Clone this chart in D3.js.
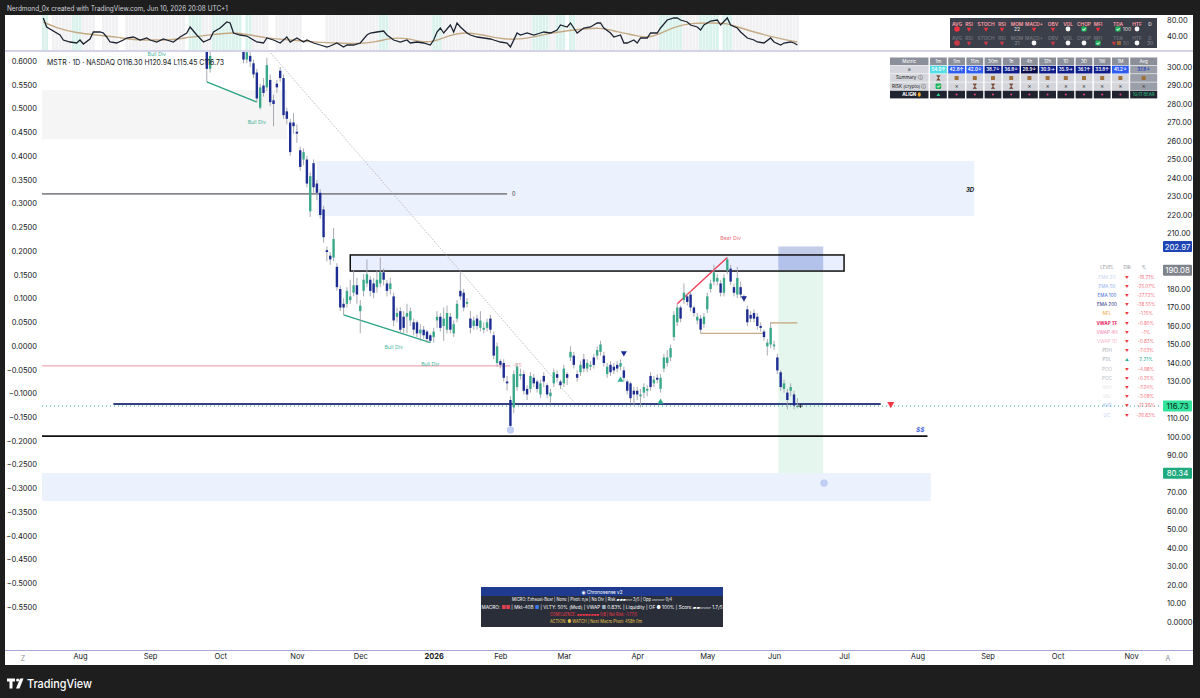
<!DOCTYPE html>
<html><head><meta charset="utf-8"><title>MSTR 1D</title>
<script src="https://cdn.jsdelivr.net/npm/d3@7/dist/d3.min.js"></script>
<style>html,body{margin:0;padding:0;background:#1e1e1e;overflow:hidden}svg{display:block}</style>
</head><body><svg id="chart" width="1200" height="698"></svg>
<script>
// ================= DATA =================
const marketHolidays = ["2025-07-04","2025-09-01","2025-11-27","2025-12-25","2026-01-01","2026-01-19","2026-02-16","2026-04-03","2026-05-25","2026-06-19","2026-07-03","2026-09-07","2026-11-26","2026-12-25"];
const firstBarDate = "2025-09-25";
// daily OHLC, one entry per trading day from firstBarDate
const ohlc = [
[309,312,292,299],[299,310,297,306],[314,322,310,320],[320,334,317,330],[330,338,322,326],[326,340,323,336],[336,345,330,333],[333,337,320,324],[324,332,316,328],[328,331,314,318],
[318,324,311,320],[318,320,302,304],[304,312,302,308],[306,309,300,303],[302,304,294,296],[297,299,281,283],[278,291,277,289],[290,294,284,286],[289,305,287,301],[293,296,279,281],
[282,285,268,280],[291,293,286,289],[298,300,292,294],[294,296,272,274],[276,278,269,272],[270,272,252,254],[270,275,264,268],[265,269,259,264],[255,257,244,246],[250,256,247,254],
[250,252,235,237],[222,243,219,241],[248,250,232,235],[237,239,228,232],[232,234,218,220],[223,225,205,208],[201,203,195,200],[198,200,193,196],[197,213,195,207],[192,194,179,181],
[180,182,168,170],[172,175,166,170],[172,181,170,179],[174,185,172,176],[178,190,176,182],[182,186,172,177],[168,174,156,171],[179,188,176,185],[183,196,181,188],[185,187,176,179],
[183,186,175,178],[181,190,178,185],[183,197,181,189],[189,191,182,185],[183,185,176,179],[180,186,177,183],[176,178,160,163],[165,170,162,167],[168,170,156,158],[165,168,156,159],
[165,172,156,167],[163,170,160,168],[162,164,155,158],[162,163,154,156],[156,161,152,158],[158,160,153,155],[157,158,151,153],[155,156,151,152],[154,159,151,157],[163,168,159,165],
[165,167,157,159],[160,170,152,164],[158,171,156,167],[165,167,156,158],[156,163,154,161],[164,174,162,172],[179,189,174,176],[178,180,168,170],[172,175,170,173],[164,168,156,159],
[160,165,158,163],[164,166,158,160],[159,168,157,163],[158,162,156,159],[159,164,157,162],[164,166,156,158],[155,157,142,144],[140,151,138,149],[141,142,137,139],[140,142,130,132],
[130,133,125,129],[120,122,104,106],[116,136,113,134],[127,140,125,138],[133,137,131,134],[134,136,123,125],[126,128,120,123],[126,135,124,133],[132,134,127,129],[130,131,124,126],
[123,131,121,129],[133,135,127,130],[128,129,121,123],[122,126,118,124],[129,137,127,135],[134,136,130,132],[130,131,126,128],[129,139,127,137],[134,135,128,132],[143,149,141,146],
[144,146,137,139],[134,136,130,132],[135,141,133,139],[142,145,135,137],[137,142,135,140],[138,141,136,139],[143,145,137,139],[144,149,142,147],[146,152,144,150],[144,146,138,140],
[134,140,132,138],[139,141,133,135],[138,140,134,136],[139,141,135,137],[138,142,136,140],[136,138,130,132],[130,131,123,125],[129,130,118,121],[125,127,117,123],[125,127,120,123],
[122,126,116,123],[124,129,121,127],[125,128,122,126],[133,135,125,127],[129,133,127,131],[132,134,129,131],[126,134,124,132],[137,145,135,143],[140,147,138,143],[143,150,141,148],
[154,168,152,166],[162,172,160,170],[170,171,162,164],[174,183,172,178],[176,178,171,173],[177,179,168,170],[170,171,165,167],[163,167,161,165],[164,166,156,158],[161,167,159,165],
[169,178,167,176],[180,185,178,183],[184,193,182,189],[184,188,182,186],[183,185,176,178],[178,188,176,186],[190,197,188,196],[191,193,182,184],[181,183,176,178],[177,192,175,186],
[181,184,175,177],[176,177,173,175],[169,171,160,162],[166,168,162,164],[167,169,162,164],[165,167,158,160],[160,162,157,159],[157,158,152,154],[149,153,144,151],[150,162,148,159],
[149,152,147,150],[143,145,134,136],[135,136,125,127],[126,131,124,129],[124,126,115,120],[125,129,122,127],[123,125,115,117],[116.30,120.94,115.45,116.73]
];
// oscillator pane: [trading days from 2025-08-01, value]
const oscLine = [[-11,85],[-10,62.5],[-6,42.5],[-5,30],[-3,25],[-1,22.5],[0,30],[1,20],[3,32.5],[4,50],[6,50],[7,47.5],[8,37.5],[9,25],[11,22.5],[13,30],[14,35],[16,37.5],[18,30],[20,35],[21,30],[23,25],[25,32.5],[26,30],[28,25],[30,37.5],[32,47.5],[33,62.5],[35,42.5],[37,25],[39,32.5],[40,50],[42,60],[44,75],[45,72.5],[46,47.5],[48,42.5],[50,40],[51,35],[53,25],[55,22.5],[56,35],[58,30],[60,22.5],[62,37.5],[63,25],[65,35],[67,25],[68,30],[70,22.5],[72,17.5],[74,12.5],[75,15],[77,22.5],[79,12.5],[80,17.5],[82,17.5],[84,22.5],[86,42.5],[87,47.5],[89,50],[91,52.5],[92,42.5],[94,30],[96,25],[98,30],[99,22.5],[101,25],[103,22.5],[105,17.5],[106,30],[107,50],[108,60],[109,47.5],[111,67.5],[112,50],[113,72.5],[114,62.5],[116,47.5],[117,42.5],[119,37.5],[121,35],[123,32.5],[124,30],[126,25],[128,22.5],[129,12.5],[131,47.5],[132,42.5],[134,47.5],[136,42.5],[138,47.5],[139,50],[141,47.5],[143,55],[144,67.5],[146,62.5],[147,72.5],[149,47.5],[151,60],[153,62.5],[155,72.5],[156,72.5],[157,60],[159,47.5],[160,37.5],[162,42.5],[163,22.5],[164,22.5],[166,30],[167,22.5],[168,35],[170,35],[171,47.5],[173,47.5],[174,60],[176,80],[178,85],[179,85],[180,80],[182,75],[183,67.5],[185,62.5],[186,55],[187,67.5],[189,77.5],[191,80],[192,67.5],[194,85],[195,67.5],[197,60],[198,50],[200,35],[202,30],[203,25],[205,22.5],[207,35],[208,25],[210,17.5],[211,22.5],[213,25],[214,22.5],[215,17.5]];
const oscSignal = [[-11,75],[-7,60],[-1,47.5],[5,42.5],[11,37.5],[16,30],[22,30],[28,30],[33,37.5],[39,42.5],[46,50],[51,42.5],[56,35],[63,30],[70,25],[77,22.5],[83,20],[89,25],[93,35],[98,35],[102,25],[106,25],[111,42.5],[115,50],[121,42.5],[125,35],[130,30],[136,37.5],[141,47.5],[148,55],[156,62.5],[161,50],[166,42.5],[170,35],[173,42.5],[178,62.5],[183,72.5],[189,72.5],[194,72.5],[198,60],[203,47.5],[209,35],[215,25]];
const oscTealRuns = [[-11,-10],[-2,0],[33,36],[40,48],[50,51],[90,92],[106,108],[136,140],[143,145],[147,148],[174,180],[186,191],[193,195]];
const oscGrayRuns = [[-8,-3],[1,4],[7,11],[14,31],[37,39],[52,56],[59,66],[74,89],[93,105],[109,135],[141,142],[149,155],[156,173],[181,185],[196,215]];
const oscTicks = [40, 80];

const priceTicks = [0,10,20,30,40,50,60,70,80,90,100,110,120,130,140,150,160,170,180,190,200,210,220,230,240,250,260,270,280,290,300];
const leftTicks = [0.6,0.55,0.5,0.45,0.4,0.35,0.3,0.25,0.2,0.15,0.1,0.05,0,-0.05,-0.1,-0.15,-0.2,-0.25,-0.3,-0.35,-0.4,-0.45,-0.5,-0.55];
const monthTicks = [["2025-08-01","Aug"],["2025-09-02","Sep"],["2025-10-01","Oct"],["2025-11-03","Nov"],["2025-12-01","Dec"],["2026-01-02","2026"],["2026-02-02","Feb"],["2026-03-02","Mar"],["2026-04-01","Apr"],["2026-05-01","May"],["2026-06-01","Jun"],["2026-07-01","Jul"],["2026-08-03","Aug"],["2026-09-01","Sep"],["2026-10-01","Oct"],["2026-11-02","Nov"]];

// drawings
const zones = [
  {kind:"gray", from:"2025-06-02", to:"2025-10-29", top:287.6, bottom:261.0},
  {kind:"blue", from:"2025-11-11", to:"2026-08-26", top:249.2, bottom:219.5},
  {kind:"blue", from:"2025-06-02", to:"2026-08-07", top:80.5, bottom:65.4}
];
const keyBox = {from:"2025-11-25", to:"2026-07-01", top:198.4, bottom:189.7};
const hLevels = [
  {kind:"gray",  from:"2025-06-02", to:"2026-02-04", price:231.4, label:"0"},
  {kind:"pink",  from:"2025-06-02", to:"2026-02-05", price:138.4, label:"-0.5"},
  {kind:"navy",  from:"2025-08-15", to:"2026-07-17", price:117.8},
  {kind:"black", from:"2025-06-02", to:"2026-08-06", price:100.5, label:"$$"}
];
const tanLevels = [{from:"2026-04-29", to:"2026-05-27", price:156.0},{from:"2026-05-29", to:"2026-06-10", price:161.7}];
const trendLine = {from:"2025-10-21", p1:310, to:"2026-03-05", p2:119};
const bullDivs = [["2025-09-25","2025-10-16"],["2025-11-21","2025-12-31"]];
const bearDivs = [["2026-04-20","2026-05-11"]];
const bullLabels = [{date:"2025-09-04",price:307.2},{date:"2025-10-16",price:270.3},{date:"2025-12-15",price:148.6},{date:"2025-12-31",price:139.5}];
const bearLabels = [{date:"2026-05-12",price:207.6}];
const markers = [{date:"2026-03-26",price:145.4,type:"down"},{date:"2026-03-25",price:130.8,type:"up"},{date:"2026-04-13",price:118.9,type:"up"},{date:"2026-05-18",price:175.1,type:"down"},{date:"2026-07-22",price:117.8,type:"alert"}];
const rings = [{date:"2026-02-05",price:103.8},{date:"2026-06-23",price:75.1}];
const tfLabel = {date:"2026-08-26", price:234, text:"3D"};
const position = {from:"2026-06-02", to:"2026-06-22", stop:202.97, entry:190.08, target:80.34};

// tables
const metricCols = ["Metric","1m","5m","15m","30m","1h","4h","12h","1D","3D","1W","1M","Avg"];
const metricScores = [54.0,42.8,42.0,38.7,36.8,28.9,30.9,35.9,36.1,33.8,41.2,37.8];
const metricArrows = ["↑","↑","↓","↓","↓","↓","→","→","↑","↑","↓","↓"];
const summaryIcons = ["wait","box","box","box","box","box","box","box","box","box","box","box"];
const riskIcons = ["ok","x","wait","wait","wait","x","x","x","x","x","x","x"];
const alignIcons = ["up","dn","dn","dn","dn","dn","dn","dn","dn","dn","dn","10/11 BEAR"];
const miniLabels = ["AVG","RSI","STOCH","RSI","MOM","MACD+","OBV","VOL","CHOP","MFI","TDA","HTF","D"];
const miniRowA = ["big","dot","dot","dot","22","dot","dot","ring","ok","dot","ok100","ring",""];
const miniRowB = ["big","dot","dot","dot","21","ring","dot","ring","ring","ok","dot50","ring","30"];
const levelNames = ["EMA 20","EMA 50","EMA 100","EMA 200","NFL","VWAP TF","VWAP 4H","VWAP 1D","PDH","PDL","POO","POC","VAH","VAL","AVG","UC"];
const levelPct = ["-19.21%","-25.07%","-27.72%","-38.55%","-1.15%","-0.80%","-1%","-0.83%","-7.03%","2.21%","-4.98%","-0.25%","-7.24%","-3.08%","-21.36%","-26.83%"];

// ================= RENDER =================
const F = "Inter, 'Noto Sans', 'DejaVu Sans', sans-serif";
const svg = d3.select("#chart");
const parse = d3.utcParse("%Y-%m-%d"), fmt = d3.utcFormat("%Y-%m-%d");
const days = d3.utcDay.range(parse("2025-06-02"), parse("2027-01-01"))
  .filter(d => d.getUTCDay() % 6 !== 0 && !marketHolidays.includes(fmt(d)));
const baseIdx = days.findIndex(d => fmt(d) === "2025-08-01");
const dayIndex = new Map(days.map((d,i) => [fmt(d), i - baseIdx]));
function di(s){ let d = parse(s); while(!dayIndex.has(fmt(d))) d = d3.utcDay.offset(d,1); return dayIndex.get(fmt(d)); }

const xs = d3.scaleLinear().domain([di("2025-08-01"), di("2026-06-01")]).range([80, 774]);
const X = s => xs(di(s));
const yP = d3.scaleLinear().domain([0, 300]).range([622, 67]);
const yL = d3.scaleLinear().domain([-0.55, 0.6]).range([607, 61]);
const yO = d3.scaleLinear().domain([40, 80]).range([36, 20]);
const startIdx = di(firstBarDate);
const bars = ohlc.map((d,k) => ({i:startIdx+k, o:d[0], h:d[1], l:d[2], c:d[3]}));
const barByDate = s => bars.find(b => b.i === di(s));
const last = bars[bars.length-1];

function txt(g, x, y, s, o={}) {
  const t = g.append("text").attr("x",x).attr("y",y).text(s)
    .attr("font-size",o.size||8).attr("fill",o.fill||"#131722")
    .attr("text-anchor",o.anchor||"start").attr("dominant-baseline","central")
    .attr("font-weight",o.weight||400).attr("font-family",o.family||F);
  if (o.style) t.attr("font-style",o.style);
  if (o.len) t.attr("textLength",o.len).attr("lengthAdjust","spacingAndGlyphs");
  return t;
}

// frame
svg.append("rect").attr("width",1200).attr("height",698).attr("fill","#1e1e1e");
svg.append("rect").attr("x",5).attr("y",15).attr("width",1188).attr("height",650).attr("fill","#ffffff");
txt(svg, 7, 8, "Nerdmond_0x created with TradingView.com, Jun 10, 2026 20:08 UTC+1", {size:7, fill:"#d1d4dc", len:221});

const defs = svg.append("defs");
defs.append("clipPath").attr("id","clipMain").append("rect").attr("x",42).attr("y",52).attr("width",1118).attr("height",598);
defs.append("clipPath").attr("id","clipOsc").append("rect").attr("x",38).attr("y",15).attr("width",1122).attr("height",36);

// ---------- oscillator pane ----------
const osc = svg.append("g").attr("clip-path","url(#clipOsc)");
const bw = xs(1) - xs(0);
function runs(list, color){
  list.forEach(([a,b]) => d3.range(a, b+1).forEach(i => {
    osc.append("rect").attr("x", xs(i)-bw/2+0.25).attr("width", bw-0.5).attr("y",15).attr("height",35).attr("fill",color);
  }));
}
runs(oscGrayRuns, "#f1f1f3");
runs(oscTealRuns, "#daf2ec");
osc.append("path").datum(oscSignal).attr("fill","none").attr("stroke","#c5a984").attr("stroke-width",1.4)
  .attr("d", d3.line().x(d=>xs(d[0])).y(d=>yO(d[1])).curve(d3.curveBasis));
osc.append("path").datum(oscLine).attr("fill","none").attr("stroke","#1c2331").attr("stroke-width",1.3)
  .attr("d", d3.line().x(d=>xs(d[0])).y(d=>yO(d[1])));
const oAxis = svg.append("g").attr("transform","translate(1167,0)")
  .call(d3.axisRight(yO).tickValues(oscTicks).tickFormat(d3.format(".2f")).tickSize(0).tickPadding(0));
oAxis.select(".domain").remove();
oAxis.selectAll("text").attr("font-size",7.5).attr("fill","#131722").attr("font-family",F);

// mini status table (oscillator pane)
const mt = svg.append("g");
mt.append("rect").attr("x",950).attr("y",18).attr("width",207).attr("height",30).attr("fill","#3b3f49");
const miniX = [957,969,986,1002,1017,1034,1053,1068,1084,1098,1118,1137,1150];
function miniMark(x, y, v, faded){
  const red = faded ? "#c83a48" : "#f0313f";
  if (v === "big") mt.append("circle").attr("cx",x).attr("cy",y).attr("r",2.8).attr("fill",red);
  else if (v === "dot") mt.append("path").attr("d", d3.symbol(d3.symbolTriangle).size(9)()).attr("transform",`translate(${x},${y}) rotate(180)`).attr("fill",red);
  else if (v === "ring") mt.append("circle").attr("cx",x).attr("cy",y).attr("r",2.4).attr("fill","#f5f5f5");
  else if (v.startsWith("ok")) { mt.append("rect").attr("x",x-2.6).attr("y",y-2.6).attr("width",5.2).attr("height",5.2).attr("fill","#1fb35a").attr("rx",0.8);
    txt(mt, x, y, "✓", {size:5, fill:"#fff", anchor:"middle", weight:700});
    if (v === "ok100") txt(mt, x+9, y, "100", {size:5, fill:"#e0e0e0", anchor:"middle"}); }
  else if (v === "dot50") { mt.append("path").attr("d", d3.symbol(d3.symbolTriangle).size(9)()).attr("transform",`translate(${x-4},${y}) rotate(180)`).attr("fill",red);
    mt.append("rect").attr("x",x-1).attr("y",y-2).attr("width",4).attr("height",4).attr("fill","#9a6b3c");
    txt(mt, x+8, y, "50", {size:5, fill:"#777", anchor:"middle"}); }
  else if (v) txt(mt, x, y, v, {size:5, fill: faded ? "#8a8d94" : "#e8e8e8", anchor:"middle"});
}
miniLabels.forEach((s,k) => {
  txt(mt, miniX[k], 23.5, s, {size:4.8, fill: k===12 ? "#ddd" : "#ff9da4", anchor:"middle", weight:600});
  miniMark(miniX[k], 29, miniRowA[k], false);
  txt(mt, miniX[k], 37.5, s, {size:4.8, fill:"#6e717a", anchor:"middle", weight:600});
  miniMark(miniX[k], 43, miniRowB[k], true);
});

// separators
svg.append("line").attr("x1",5).attr("x2",1193).attr("y1",51).attr("y2",51).attr("stroke","#a7a5d3").attr("stroke-width",1.2);
svg.append("line").attr("x1",5).attr("x2",1193).attr("y1",650.5).attr("y2",650.5).attr("stroke","#a7a5d3").attr("stroke-width",1.2);

// ---------- main pane ----------
const main = svg.append("g").attr("clip-path","url(#clipMain)");
zones.forEach(z => main.append("rect").attr("x",X(z.from)).attr("width",X(z.to)-X(z.from))
  .attr("y",yP(z.top)).attr("height",yP(z.bottom)-yP(z.top)).attr("fill", z.kind==="gray" ? "#f5f5f5" : "#ebf1fd"));

// position tool
const px1 = X(position.from)+1, px2 = X(position.to)+2.5;
main.append("rect").attr("x",px1).attr("width",px2-px1).attr("y",yP(position.entry)).attr("height",yP(position.target)-yP(position.entry)).attr("fill","#e4f6ee");
main.append("rect").attr("x",px1).attr("width",px2-px1).attr("y",yP(position.stop)).attr("height",yP(position.entry)-yP(position.stop)).attr("fill","#c3cde9");

// key box
main.append("rect").attr("x",X(keyBox.from)).attr("width",X(keyBox.to)-X(keyBox.from))
  .attr("y",yP(keyBox.top)).attr("height",yP(keyBox.bottom)-yP(keyBox.top))
  .attr("fill","rgba(41,98,255,0.10)").attr("stroke","#111").attr("stroke-width",1.5);

// horizontal levels
const lvlStyle = {gray:{c:"#86888e",w:1.6}, pink:{c:"#f3a9b7",w:1.2}, navy:{c:"#34427f",w:2}, black:{c:"#111",w:1.6}};
hLevels.forEach(h => {
  const s = lvlStyle[h.kind];
  main.append("line").attr("x1",X(h.from)).attr("x2",X(h.to)).attr("y1",yP(h.price)).attr("y2",yP(h.price)).attr("stroke",s.c).attr("stroke-width",s.w);
  if (h.kind === "gray") txt(main, X(h.to)+5, yP(h.price), h.label, {size:5.5, fill:"#333"});
  if (h.kind === "pink") txt(main, X("2026-02-09"), yP(h.price), h.label, {size:4.5, fill:"#f08a9c", anchor:"middle"});
  if (h.kind === "black") txt(main, X(h.to)-3, yP(h.price)-6, h.label, {size:6.5, fill:"#3f63d8", anchor:"end", weight:700, style:"italic"});
});
tanLevels.forEach(t => main.append("line").attr("x1",X(t.from)).attr("x2",X(t.to)).attr("y1",yP(t.price)).attr("y2",yP(t.price)).attr("stroke","#c9ab86").attr("stroke-width",1.4));

// dotted trend line
main.append("line").attr("x1",X(trendLine.from)).attr("y1",yP(trendLine.p1)).attr("x2",X(trendLine.to)).attr("y2",yP(trendLine.p2))
  .attr("stroke","#a9acb3").attr("stroke-width",0.8).attr("stroke-dasharray","1.5,1.5");

// current price dotted line
main.append("line").attr("x1",42).attr("x2",1160).attr("y1",yP(last.c)).attr("y2",yP(last.c))
  .attr("stroke","#22ab94").attr("stroke-width",1).attr("stroke-dasharray","1,3");

// divergence lines
bullDivs.forEach(([a,b]) => { const A = barByDate(a), B = barByDate(b);
  main.append("line").attr("x1",xs(A.i)).attr("y1",yP(A.l)).attr("x2",xs(B.i)).attr("y2",yP(B.l)).attr("stroke","#2aa586").attr("stroke-width",1.3); });
bearDivs.forEach(([a,b]) => { const A = barByDate(a), B = barByDate(b);
  main.append("line").attr("x1",xs(A.i)).attr("y1",yP(A.h)).attr("x2",xs(B.i)).attr("y2",yP(B.h)).attr("stroke","#ef3b55").attr("stroke-width",1.3); });

// candles
const UP = "#3aa98b", DN = "#1e2d92";
const cg = main.append("g").selectAll("g").data(bars).join("g");
cg.append("line").attr("x1",d=>xs(d.i)).attr("x2",d=>xs(d.i)).attr("y1",d=>yP(d.h)).attr("y2",d=>yP(d.l)).attr("stroke","#9ea1a9").attr("stroke-width",0.9);
cg.append("rect").attr("x",d=>xs(d.i)-1.2).attr("width",2.4)
  .attr("y",d=>yP(Math.max(d.o,d.c))).attr("height",d=>Math.max(1,yP(Math.min(d.o,d.c))-yP(Math.max(d.o,d.c))))
  .attr("fill",d=>d.c>=d.o?UP:DN);

// markers
markers.forEach(m => {
  const col = m.type==="up" ? "#2fae8f" : m.type==="alert" ? "#f23645" : "#1e2d92";
  const size = m.type==="alert" ? 22 : 16;
  main.append("path").attr("d", d3.symbol(d3.symbolTriangle).size(size)())
    .attr("transform",`translate(${X(m.date)},${yP(m.price)}) rotate(${m.type==="up"?0:180})`).attr("fill",col);
});
rings.forEach(r => main.append("circle").attr("cx",X(r.date)).attr("cy",yP(r.price)).attr("r",3.3).attr("fill","#c2d1f5").attr("stroke","#a9bdf0").attr("stroke-width",0.6));
main.append("path").attr("d",`M${xs(last.i)+1},${yP(last.c)}h4M${xs(last.i)+3},${yP(last.c)-2}v4`).attr("stroke","#111").attr("stroke-width",0.8);

// labels
bullLabels.forEach(b => txt(main, X(b.date), yP(b.price), "Bull Div", {size:5.2, fill:"#4cb39c", anchor:"middle"}));
bearLabels.forEach(b => txt(main, X(b.date), yP(b.price), "Bear Div", {size:5.2, fill:"#f0707e", anchor:"middle"}));
txt(main, X(tfLabel.date), yP(tfLabel.price), tfLabel.text, {size:6, fill:"#131722", anchor:"end", weight:700, style:"italic"});

// legend
const lg = txt(svg, 47, 61.5, "", {size:7.6, fill:"#131722", len:177});
lg.append("tspan").text("MSTR · 1D · NASDAQ  ");
lg.append("tspan").text(`O${last.o.toFixed(2)}  H${last.h.toFixed(2)}  L${last.l.toFixed(2)}  C${last.c.toFixed(2)}`);

// ---------- metric table ----------
const tb = svg.append("g");
const colX = [890, ...d3.range(11).map(k => 930 + k*18.2), 1130.2];
const colW = [38.5, ...d3.range(11).map(() => 16.8), 27];
const rowY = [57.5, 65.8, 74.1, 82.4, 90.7], rowH = 7.7;
function cell(c, r, fill){ tb.append("rect").attr("x",colX[c]).attr("y",rowY[r]).attr("width",colW[c]).attr("height",rowH).attr("fill",fill); }
function cx(c){ return colX[c] + colW[c]/2; }
function cy(r){ return rowY[r] + rowH/2; }
metricCols.forEach((s,c) => { cell(c,0,"#8b8f99"); txt(tb, cx(c), cy(0), s, {size:4.6, fill:"#fff", anchor:"middle"}); });
const rowLabels = ["a","Summary ⓘ","RISK (crypto) ⓘ","ALIGN"];
rowLabels.forEach((s,r) => { cell(0, r+1, r===3 ? "#1f2430" : "#d4d6dc"); txt(tb, cx(0), cy(r+1), s, {size:4.5, fill: r===3 ? "#fff" : "#222", anchor:"middle", weight: r===3?700:400}); });
tb.append("ellipse").attr("cx",cx(0)+10).attr("cy",cy(4)).attr("rx",1.5).attr("ry",2.2).attr("fill","#f5a623");
function scoreFill(v){ return v >= 50 ? "#55dde5" : v >= 40 ? "#2f5cf0" : v >= 30 ? "#0c1d8a" : "#060b4a"; }
metricScores.forEach((v,k) => {
  const c = k+1, isAvg = c === 12;
  cell(c, 1, isAvg ? "#9a9ea8" : scoreFill(v));
  txt(tb, cx(c), cy(1), v.toFixed(1)+metricArrows[k], {size:4.5, fill: isAvg ? "#1e3cc0" : "#fff", anchor:"middle", weight:600});
});
function icon(c, r, v){
  const x = cx(c), y = cy(r);
  if (v === "box") tb.append("rect").attr("x",x-2).attr("y",y-2).attr("width",4).attr("height",4).attr("fill","#a0703a").attr("rx",0.5);
  else if (v === "wait") tb.append("path").attr("d",`M${x-1.8},${y-2.4}h3.6l-3.6,4.8h3.6z`).attr("fill","#8a4a2a").attr("stroke","#3a2a20").attr("stroke-width",0.3);
  else if (v === "x") txt(tb, x, y, "✕", {size:4.5, fill:"#333", anchor:"middle"});
  else if (v === "ok") { tb.append("rect").attr("x",x-2.8).attr("y",y-2.8).attr("width",5.6).attr("height",5.6).attr("fill","#1fb35a").attr("rx",0.8); txt(tb, x, y, "✓", {size:5, fill:"#fff", anchor:"middle", weight:700}); }
  else if (v === "up") txt(tb, x, y, "▲", {size:3.8, fill:"#2fd08f", anchor:"middle"});
  else if (v === "dn") tb.append("circle").attr("cx",x).attr("cy",y).attr("r",1).attr("fill","#f0457a");
  else txt(tb, x, y, v, {size:4.3, fill:"#2fd08f", anchor:"middle"});
}
summaryIcons.forEach((v,k) => { const c=k+1; cell(c,2, c===12?"#9a9ea8":"#d4d6dc"); icon(c,2,v); });
riskIcons.forEach((v,k) => { const c=k+1; cell(c,3, c===12?"#9a9ea8":"#d4d6dc"); icon(c,3,v); });
alignIcons.forEach((v,k) => { const c=k+1; cell(c,4,"#1f2430"); icon(c,4,v); });

// ---------- level table ----------
const lt = svg.append("g");
const levelColor = {"EMA 20":"#c8d6f4","EMA 50":"#8fb0ee","EMA 100":"#3a66d6","EMA 200":"#1b2a7e","NFL":"#f2a33a","VWAP TF":"#e91e63","VWAP 4H":"#f27ea8","VWAP 1D":"#f7b6cc","PDH":"#a9acb4","PDL":"#a9acb4","POO":"#b6b9c0","POC":"#b6b9c0","VAH":"#e4e5e8","VAL":"#e4e5e8","AVG":"#9fb6e6","UC":"#c3d2f2"};
const ltY = d3.scaleLinear().domain([0, levelNames.length-1]).range([277, 415]);
txt(lt, 1107, 267.5, "LEVEL", {size:4.4, fill:"#8a8d94", anchor:"middle"});
txt(lt, 1127, 267.5, "DIR", {size:4.4, fill:"#8a8d94", anchor:"middle"});
txt(lt, 1144, 267.5, "%", {size:4.4, fill:"#8a8d94", anchor:"middle"});
levelNames.forEach((s,k) => {
  const up = !levelPct[k].startsWith("-");
  txt(lt, 1107, ltY(k), s, {size:4.6, fill:levelColor[s], anchor:"middle", weight: s==="VWAP TF"?700:400});
  txt(lt, 1127, ltY(k), up ? "▲" : "▼", {size:3.8, fill: up ? "#22ab94" : "#f23645", anchor:"middle"});
  txt(lt, 1146, ltY(k), levelPct[k], {size:4.6, fill: up ? "#22ab94" : "#f6737e", anchor:"middle"});
});

// ---------- Chronosense panel ----------
const cp = svg.append("g");
cp.append("rect").attr("x",481).attr("y",587).attr("width",242).attr("height",40).attr("fill","#2a2e39");
cp.append("rect").attr("x",481).attr("y",587).attr("width",242).attr("height",9).attr("fill","#1f3b8f");
txt(cp, 602, 591.7, "◉ Chronosense v2", {size:5, fill:"#fff", anchor:"middle", len:41});
txt(cp, 592, 599.5, "MICRO: Exhaust-Bear | None | Pivot: n/a | No Div | Risk ▰▰▰▱▱ 3/5 | Opp ▱▱▱▱ 0/4", {size:4.6, fill:"#fff", anchor:"middle", len:160});
const r2 = txt(cp, 602, 606.8, "", {size:4.6, fill:"#fff", anchor:"middle", len:241});
[["MACRO: ","#fff"],["■■","#e8404f"],[" | Mkt-40B ","#fff"],["■","#3f7bf0"],[" | VLTY: 50% (Med) | VWAP ","#fff"],["■","#9fb3c8"],[" 0.83% | Liquidity  | OF ","#fff"],["●","#fff"],[" 100% | Score ","#fff"],["▰▰▱▱▱","#fff"],[" 1.7/5","#fff"]]
  .forEach(([s,c]) => r2.append("tspan").text(s).attr("fill",c));
txt(cp, 593.5, 614, "CONFLUENCE: ▰▰▰▰▰▰▰▰ 0/8 | Net Risk: -1.77/5", {size:4.6, fill:"#f2364a", anchor:"middle", len:87});
txt(cp, 596, 621.2, "ACTION: ● WATCH | Next Macro Pivot: 458h 0m", {size:4.6, fill:"#e9c44a", anchor:"middle", len:92});

// ---------- axes ----------
const tagPrices = [position.stop, position.entry, position.target, last.c];
const shownPriceTicks = priceTicks.filter(v => tagPrices.every(p => Math.abs(yP(v) - yP(p)) > 9));
const rAxis = svg.append("g").attr("transform","translate(1167,0)")
  .call(d3.axisRight(yP).tickValues(shownPriceTicks).tickFormat(v => v===0 ? "0.0000" : d3.format(".2f")(v)).tickSize(0).tickPadding(0));
rAxis.select(".domain").remove();
rAxis.selectAll("text").attr("font-size",7.5).attr("fill","#131722").attr("font-family",F);
const lAxis = svg.append("g").attr("transform","translate(37,0)")
  .call(d3.axisLeft(yL).tickValues(leftTicks).tickFormat(d3.format(".4f")).tickSize(0).tickPadding(0));
lAxis.select(".domain").remove();
lAxis.selectAll("text").attr("font-size",7.5).attr("fill","#131722").attr("font-family",F);
const monthIdx = monthTicks.map(m => di(m[0]));
const tAxis = svg.append("g").attr("transform","translate(0,654)")
  .call(d3.axisBottom(xs).tickValues(monthIdx).tickFormat((v,k) => monthTicks[k][1]).tickSize(0).tickPadding(0));
tAxis.select(".domain").remove();
tAxis.selectAll("text").attr("font-size",7.5).attr("fill","#131722").attr("font-family",F)
  .attr("font-weight",(v,k) => monthTicks[k][1]==="2026" ? 700 : 400);
txt(svg, 23, 658, "Z", {size:7, fill:"#8a8d94", anchor:"middle"});
txt(svg, 1168, 658, "A", {size:7, fill:"#8a8d94", anchor:"middle"});

// price labels on right axis
function priceTag(p, bg, fg){
  svg.append("rect").attr("x",1163).attr("y",yP(p)-5.5).attr("width",29).attr("height",11).attr("fill",bg).attr("rx",1);
  txt(svg, 1177.5, yP(p), p.toFixed(2), {size:7.8, fill:fg, anchor:"middle"});
}
priceTag(position.stop, "#1e44b5", "#fff");
priceTag(position.entry, "#7f838c", "#fff");
priceTag(position.target, "#1fa97e", "#fff");
priceTag(last.c, "#33e29c", "#0c2a1e");

// footer logo
const ft = svg.append("g");
ft.append("path").attr("d","M7,678.5h8v3h-2.5v7h-3v-7h-2.5z").attr("fill","#fff");
ft.append("circle").attr("cx",17.6).attr("cy",680).attr("r",1.5).attr("fill","#fff");
ft.append("path").attr("d","M20,678.5h3.5l-4,10h-3.5z").attr("fill","#fff");
txt(ft, 27, 683.5, "TradingView", {size:12, fill:"#fff", weight:500, len:65});
</script></body></html>
